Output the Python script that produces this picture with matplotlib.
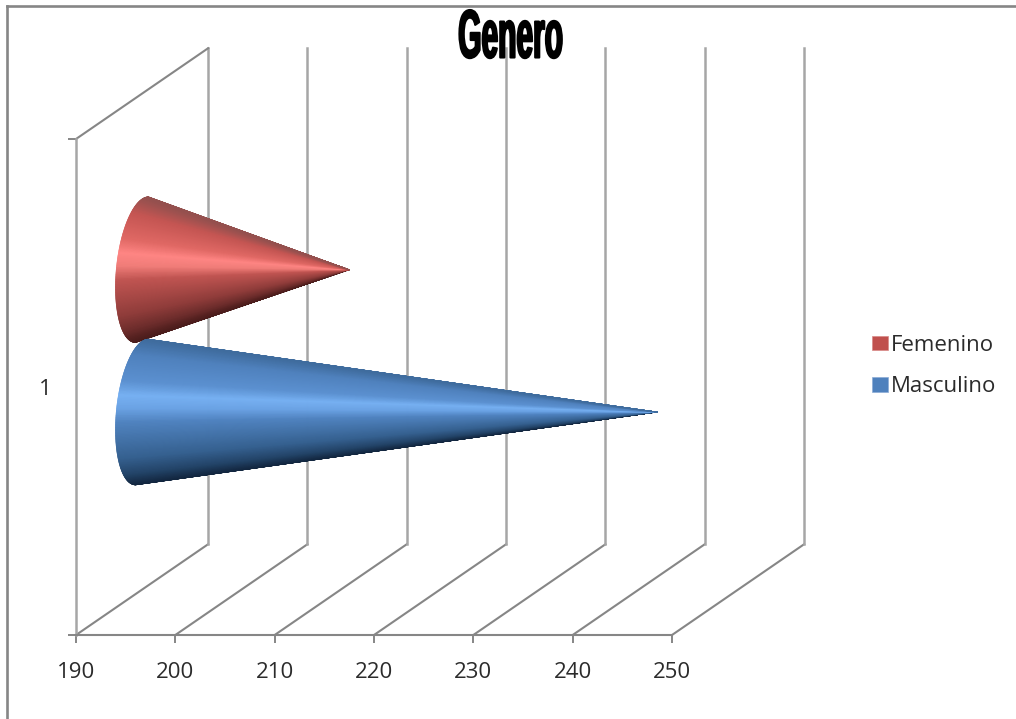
import numpy as np
import matplotlib
matplotlib.use('Agg')
import matplotlib.pyplot as plt
from matplotlib.collections import PolyCollection
from matplotlib.colors import LinearSegmentedColormap
from matplotlib.lines import Line2D
from matplotlib.patches import Patch
from matplotlib.patheffects import AbstractPathEffect
from matplotlib.transforms import Affine2D

categories = ['1']
series_names = ['Femenino', 'Masculino']
femenino = [211]
masculino = [242]
x_ticks = [190, 200, 210, 220, 230, 240, 250]

W, H = 1016, 719
LEFT, RIGHT, TOP, BOTTOM = 76, 672, 139, 635

AXIS_GRAY = '#868686'
WALL_GRAY = '#a6a6a6'
LABEL_COL = '#2b2b2b'

# 3d box depth, in data units
DEPTH_X = 13.3
DEPTH_Y = 0.183

red_cmap = LinearSegmentedColormap.from_list('red_cone', [
    (0.0, '#94504e'), (0.10, '#c45552'), (0.28, '#e06864'), (0.38, '#ff8583'),
    (0.47, '#f07c78'), (0.57, '#c05451'), (0.82, '#8f3c3a'), (0.93, '#6c2c2b'), (1.0, '#4a1c1b')])
blue_cmap = LinearSegmentedColormap.from_list('blue_cone', [
    (0.0, '#3f6c9e'), (0.10, '#4f81bd'), (0.28, '#5b90d0'), (0.38, '#76b0f2'),
    (0.47, '#6aa2e4'), (0.57, '#4f82bf'), (0.82, '#35608f'), (0.93, '#234468'), (1.0, '#12263f')])


class Squeeze(AbstractPathEffect):
    # narrows the glyphs around their centre and thickens the outline
    def __init__(self, sx, stroke):
        super().__init__()
        self.sx, self.stroke = sx, stroke

    def draw_path(self, renderer, gc, tpath, affine, rgbFace=None):
        box = tpath.get_extents(affine)
        cx = (box.x0 + box.x1) / 2
        squeezed = affine + Affine2D().translate(-cx, 0).scale(self.sx, 1).translate(cx, 0)
        gc0 = renderer.new_gc()
        gc0.copy_properties(gc)
        gc0.set_linewidth(self.stroke)
        gc0.set_foreground('black')
        renderer.draw_path(gc0, tpath, squeezed, rgbFace)
        gc0.restore()


def draw_cone(ax, value, y_mid, half_h, cmap, base):
    # base ellipse sits in the middle of the box depth, tip at the value
    cx = base + DEPTH_X / 2
    cy = y_mid + DEPTH_Y / 2
    tip_x = value + DEPTH_X / 2 - 0.15
    th = np.linspace(-np.pi / 2, np.pi / 2, 361)
    ex = cx - 2.6 * np.cos(th) + 0.65 * np.sin(th)
    ey = cy + half_h * np.sin(th)
    tris = []
    cols = []
    for i in range(len(th) - 1):
        tris.append([(ex[i], ey[i]), (ex[i + 1], ey[i + 1]), (tip_x, cy)])
        cols.append(cmap((1 - np.sin((th[i] + th[i + 1]) / 2)) / 2))
    # thin same-colour edges hide the seams between the slices
    ax.add_collection(PolyCollection(tris, facecolors=cols, edgecolors=cols, linewidths=0.4,
                                     zorder=3, clip_on=False), autolim=False)


fig = plt.figure(figsize=(W / 100, H / 100), dpi=100)
ax = fig.add_axes([LEFT / W, 1 - BOTTOM / H, (RIGHT - LEFT) / W, (BOTTOM - TOP) / H])
ax.set_xlim(x_ticks[0], x_ticks[-1])
ax.set_ylim(0, 1)
ax.patch.set_visible(False)

for side in ['top', 'right']:
    ax.spines[side].set_visible(False)
for side in ['left', 'bottom']:
    ax.spines[side].set_color(AXIS_GRAY)
    ax.spines[side].set_linewidth(1.5)
ax.spines['left'].set_color(WALL_GRAY)
ax.spines['left'].set_linewidth(1.8)

ax.set_xticks(x_ticks)
ax.set_yticks([0, 1])
ax.set_yticklabels(['', ''])
ax.tick_params(axis='x', length=5.5, width=1.4, color=AXIS_GRAY, pad=14,
               labelsize=16, labelcolor=LABEL_COL)
ax.tick_params(axis='y', length=5.5, width=1.4, color=AXIS_GRAY)
for lab in ax.get_xticklabels():
    lab.set_family('Open Sans')

# back wall and floor of the 3d box
for t in x_ticks:
    ax.plot([t, t + DEPTH_X], [0, DEPTH_Y], color=AXIS_GRAY, lw=1.5, clip_on=False, zorder=1)
    ax.plot([t + DEPTH_X] * 2, [DEPTH_Y, 1 + DEPTH_Y], color=WALL_GRAY, lw=1.8, clip_on=False, zorder=1)
ax.plot([x_ticks[0], x_ticks[0] + DEPTH_X], [1, 1 + DEPTH_Y], color=AXIS_GRAY, lw=1.5,
        clip_on=False, zorder=1)

# one category, two cones side by side
draw_cone(ax, femenino[0], 0.645, 0.147, red_cmap, x_ticks[0])
draw_cone(ax, masculino[0], 0.358, 0.147, blue_cmap, x_ticks[0])

ax.text(-0.052, 0.494, categories[0], transform=ax.transAxes, ha='center', va='center',
        fontsize=16, color=LABEL_COL, family='Open Sans')

# outer chart frame, cut off at the top and left only
fig.add_artist(Line2D([7 / W, 7 / W], [0, 1 - 6 / H], color=AXIS_GRAY, lw=1.9))
fig.add_artist(Line2D([7 / W, 1], [1 - 6 / H, 1 - 6 / H], color=AXIS_GRAY, lw=1.9))

fig.text(510.5 / W, 1 - 39.5 / H, 'Genero', ha='center', va='center', fontsize=49,
         family='Liberation Sans', weight='bold', color='black',
         path_effects=[Squeeze(0.44, 1.5)])

handles = [Patch(facecolor='#c0504d', edgecolor='#d98a88', lw=0.5),
           Patch(facecolor='#4f81bd', edgecolor='#8cacd6', lw=0.5)]
fig.legend(handles, series_names, loc='center left', bbox_to_anchor=(852 / W, 1 - 366 / H),
           frameon=False, handlelength=0.72, handleheight=0.62, handletextpad=0.12,
           labelspacing=0.93, labelcolor=LABEL_COL,
           prop={'family': 'Open Sans', 'size': 16})

fig.savefig('out.png', dpi=100)
